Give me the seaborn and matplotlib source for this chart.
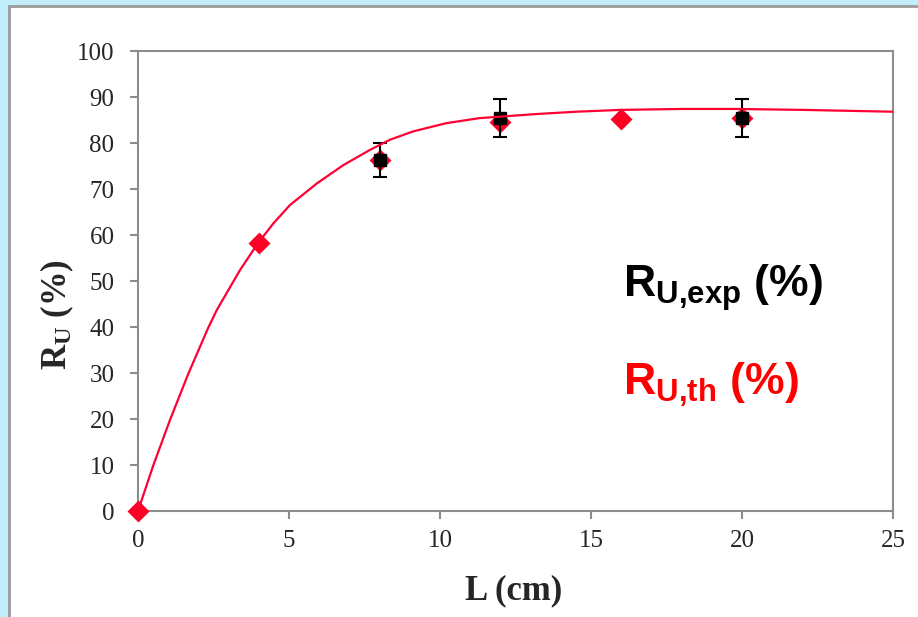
import pandas as pd
import seaborn as sns
import matplotlib.pyplot as plt
from matplotlib.patches import Rectangle

# fitted curve
curve_L = [0, 0.5, 1.06, 1.67, 2.33, 2.61, 3.38, 3.98, 4.48, 5.03, 5.92, 6.80, 7.68,
           8.34, 9.1, 10.2, 11.3, 13.2, 14.5, 16.0, 18.0, 19.8, 22.0, 25.0]
curve_R = [0, 9.8, 19.8, 29.9, 39.9, 43.7, 52.4, 58.3, 62.5, 66.5, 71.2, 75.2, 78.5,
           80.7, 82.5, 84.3, 85.4, 86.3, 86.8, 87.2, 87.4, 87.4, 87.2, 86.8]

# theoretical points
th_L = [0, 4, 8, 12, 16, 20]
th_R = [0, 58.3, 76.3, 84.5, 85.2, 85.4]

# experimental points with error bars
exp_L = [8, 12, 20]
exp_R = [76.3, 85.4, 85.4]
exp_err = [3.8, 4.2, 4.2]

sns.set_style("white")
plt.rcParams["font.family"] = ["Liberation Serif", "DejaVu Serif"]
plt.rcParams["mathtext.fontset"] = "custom"
plt.rcParams["mathtext.rm"] = "Liberation Serif"
plt.rcParams["mathtext.bf"] = "Liberation Serif:bold"
plt.rcParams["mathtext.sf"] = "Liberation Sans:bold"

fig = plt.figure(figsize=(9.18, 6.17), dpi=100)
fig.patch.set_facecolor("#c2eefc")
fig.patches.append(Rectangle((9 / 918, -0.1), 1.2, 1.1 - 6 / 617, transform=fig.transFigure,
                             facecolor="white", edgecolor="#9a9a9a", linewidth=2, zorder=-1))

ax = fig.add_axes([138 / 918, 1 - 511 / 617, 755 / 918, 460 / 617])
ax.set_zorder(2)
ax.set_facecolor("white")

sns.scatterplot(x=th_L, y=th_R, marker="D", s=125, color="#ff0025", linewidth=0,
                ax=ax, zorder=3, clip_on=False)
ax.errorbar(exp_L, exp_R, yerr=exp_err, fmt="s", color="black", markersize=9,
            ecolor="black", elinewidth=1.5, capsize=5, capthick=1.5, zorder=4)
sns.lineplot(x=curve_L, y=curve_R, color="#ff0033", linewidth=1.6, ax=ax,
             zorder=5, sort=False)

ax.set_xlim(0, 25)
ax.set_ylim(0, 100)
ax.set_xticks(range(0, 26, 5))
ax.set_yticks(range(0, 101, 10))

for s in ax.spines.values():
    s.set_color("#8c8c8c")
    s.set_linewidth(1.5)
ax.tick_params(axis="both", which="major", direction="out", length=6, width=1.5,
               color="#8c8c8c", labelsize=18, bottom=True, left=True)
ax.tick_params(axis="x", pad=8)
ax.tick_params(axis="y", pad=11)

ax.set_xlabel("L (cm)", fontsize=25, fontweight="bold")
ax.xaxis.label.set_va("center")
ax.xaxis.set_label_coords(0.498, -0.174)
ax.set_ylabel(r"$\mathbf{R_U}$ (%)", fontsize=25, fontweight="bold")
ax.yaxis.label.set_va("center")
ax.yaxis.set_label_coords(-0.107, 0.426)

ax.text(16.06, 46.5, r"$\mathsf{R_{U{,}exp}}$ (%)", fontsize=32, fontweight="bold",
        family="Liberation Sans", color="black", va="baseline")
ax.text(16.06, 25.2, r"$\mathsf{R_{U{,}th}}$ (%)", fontsize=32, fontweight="bold",
        family="Liberation Sans", color="#ff0000", va="baseline")

plt.savefig("out.png", dpi=100)
